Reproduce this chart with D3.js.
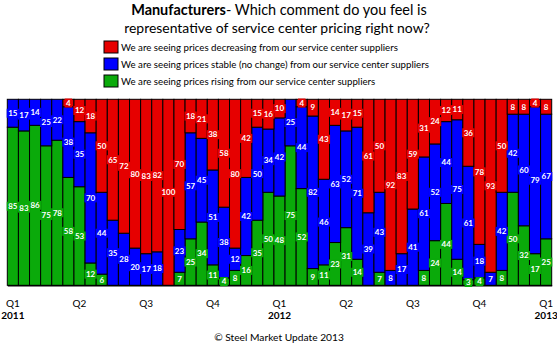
<!DOCTYPE html>
<html>
<head>
<meta charset="utf-8">
<script src="https://cdn.jsdelivr.net/npm/d3@7"></script>
<style>
  html, body { margin: 0; padding: 0; background: #fff; }
  svg { display: block; }
</style>
</head>
<body>
<svg id="chart" width="557" height="345"></svg>
<script>
// ---- DATA ----
const seriesNames = [
  "We are seeing prices decreasing from our service center suppliers",
  "We are seeing prices stable (no change) from our service center suppliers",
  "We are seeing prices rising from our service center suppliers"
];
const decreasing = [0,0,0,0,0,4,12,18,50,65,72,80,83,82,100,70,18,21,38,58,80,42,15,16,10,0,4,9,43,14,17,15,61,50,92,83,59,31,24,12,11,36,78,93,50,8,8,4,8];
const stable     = [15,17,14,25,22,38,35,70,44,35,28,20,17,18,0,23,57,45,51,38,12,42,50,34,42,25,44,82,46,63,52,71,39,43,8,17,41,61,52,44,75,61,18,7,42,42,60,79,67];
const rising     = [85,83,86,75,78,58,53,12,6,0,0,0,0,0,0,7,25,34,11,4,8,16,35,50,48,75,52,9,11,23,31,14,0,7,0,0,0,8,24,44,14,3,4,0,8,50,32,17,25];
const tickIndex   = [0,6,12,18,24,30,36,42,48];
const tickQuarter = ["Q1","Q2","Q3","Q4","Q1","Q2","Q3","Q4","Q1"];
const tickYear    = ["2011","","","","2012","","","","2013"];
const colors = ["#e60000", "#0000ff", "#0aaa0a"];
const titleBold = "Manufacturers";
const titleRest = "- Which comment do you feel is";
const titleLine2 = "representative of service center pricing right now?";
const footer = "\u00A9 Steel Market Update 2013";

// ---- BUILD ----
(function () {
const FONT = "Lato, 'Open Sans', sans-serif";
const svg = d3.select("#chart");
const categories = d3.range(decreasing.length);
const rows = categories.map(i => ({ i, rising: rising[i], stable: stable[i], decreasing: decreasing[i] }));
const keys = ["rising", "stable", "decreasing"];
const keyColor = { decreasing: colors[0], stable: colors[1], rising: colors[2] };

const pLeft = 7.3, pRight = 551.7, pTop = 99.3, pBottom = 285.3;
const x = d3.scaleBand().domain(categories).range([pLeft, pRight]).paddingInner(0).paddingOuter(0);
const y = d3.scaleLinear().domain([0, 100]).range([pBottom, pTop]);

function fitText(sel, target) {
  const w = sel.node().getComputedTextLength();
  const fs = parseFloat(sel.attr("font-size"));
  sel.attr("font-size", fs * target / w);
}

// Title
const t1 = svg.append("text").attr("x", 279).attr("y", 15).attr("text-anchor", "middle")
  .attr("font-family", FONT).attr("font-size", 15).attr("fill", "#000");
t1.append("tspan").attr("font-weight", "bold").text(titleBold);
t1.append("tspan").text(titleRest);
fitText(t1, 296);
const t2 = svg.append("text").attr("x", 277).attr("y", 33).attr("text-anchor", "middle")
  .attr("font-family", FONT).attr("font-size", 15).attr("fill", "#000").text(titleLine2);
fitText(t2, 306);

// Legend
const legendY = [41, 58, 75];
const lg = svg.append("g");
let legendFs = 11;
seriesNames.forEach((name, k) => {
  lg.append("rect").attr("x", 104).attr("y", legendY[k]).attr("width", 14).attr("height", 12)
    .attr("fill", colors[k]).attr("stroke", "#000").attr("stroke-width", 1);
  const tx = lg.append("text").attr("x", 121).attr("y", legendY[k] + 10)
    .attr("font-family", FONT).attr("font-size", legendFs).attr("fill", "#000").text(name);
  if (k === 0) { fitText(tx, 277); legendFs = parseFloat(tx.attr("font-size")); }
});

// Bars
const stacked = d3.stack().keys(keys)(rows);
const barG = svg.append("g");
stacked.forEach(layer => {
  barG.append("g").selectAll("rect").data(layer.filter(d => d[1] - d[0] > 0)).join("rect")
    .attr("x", d => x(d.data.i))
    .attr("y", d => y(d[1]))
    .attr("width", x.bandwidth())
    .attr("height", d => y(d[0]) - y(d[1]))
    .attr("fill", keyColor[layer.key])
    .attr("stroke", "#000").attr("stroke-width", 1);
});

// Axis
const axis = d3.axisBottom(x).tickValues(tickIndex).tickSize(0).tickFormat("");
const ax = svg.append("g").attr("transform", `translate(0,${pBottom})`).call(axis);
ax.select(".domain").attr("stroke", "#000").attr("stroke-width", 1.5);
ax.selectAll(".tick").each(function(d, j) {
  const g = d3.select(this);
  g.append("text").attr("y", 22).attr("text-anchor", "middle").attr("fill", "#000")
    .attr("font-family", FONT).attr("font-size", 10).text(tickQuarter[j]);
  if (tickYear[j]) {
    g.append("text").attr("y", 34).attr("text-anchor", "middle").attr("fill", "#000")
      .attr("font-family", FONT).attr("font-weight", "bold").attr("font-size", 10).text(tickYear[j]);
  }
});

// Data labels
const labG = svg.append("g");
stacked.forEach(layer => {
  layer.filter(d => d[1] - d[0] > 0).forEach(d => {
    const cx = x(d.data.i) + x.bandwidth() / 2;
    const cy = (y(d[0]) + y(d[1])) / 2;
    const v = d.data[layer.key];
    const t = labG.append("text").attr("x", cx).attr("y", cy + 2.8).attr("text-anchor", "middle")
      .attr("font-family", FONT).attr("font-weight", "bold").attr("font-size", 8)
      .attr("fill", "#fff").text(v);
    const w = t.node().getComputedTextLength();
    labG.insert("rect", () => t.node()).attr("x", cx - w / 2 - 1.5).attr("y", cy - 4.5)
      .attr("width", w + 3).attr("height", 9).attr("fill", keyColor[layer.key]);
  });
});

// Footer
const ft = svg.append("text").attr("x", 279).attr("y", 341).attr("text-anchor", "middle")
  .attr("font-family", FONT).attr("font-size", 10.5).attr("fill", "#000").text(footer);
fitText(ft, 130);
})();
</script>
</body>
</html>
